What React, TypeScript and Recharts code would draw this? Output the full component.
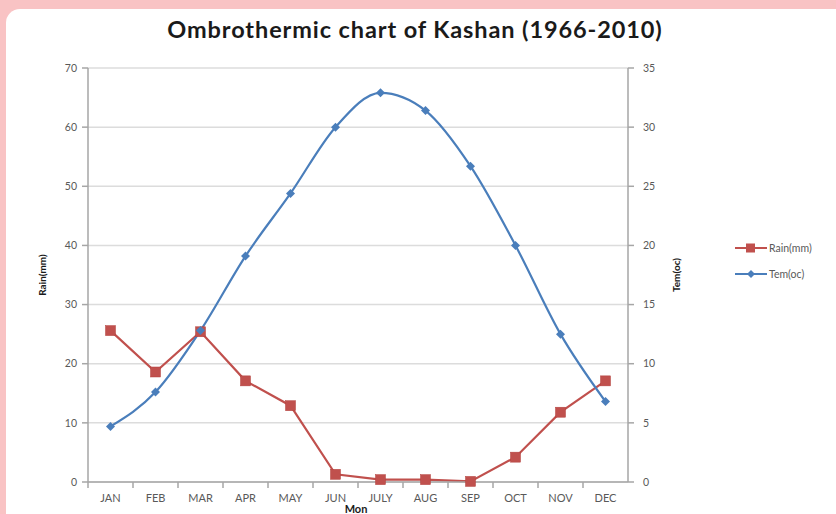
import React from "react";
import {
  LineChart,
  Line,
  XAxis,
  YAxis,
  CartesianGrid,
} from "recharts";

const months = ["JAN", "FEB", "MAR", "APR", "MAY", "JUN", "JULY", "AUG", "SEP", "OCT", "NOV", "DEC"];
const rain = [25.6, 18.6, 25.4, 17.1, 12.9, 1.3, 0.4, 0.4, 0.1, 4.2, 11.8, 17.1];
const temp = [4.7, 7.6, 12.8, 19.1, 24.4, 30.0, 32.9, 31.4, 26.7, 20.0, 12.5, 6.8];
const rainTicks = [0, 10, 20, 30, 40, 50, 60, 70];
const tempTicks = [0, 5, 10, 15, 20, 25, 30, 35];

const data = months.map((m, i) => ({ month: m, rain: rain[i], temp: temp[i] }));

const W = 836;
const H = 514;
const PLOT_LEFT = 88;
const PLOT_RIGHT = 628;
const BAND = (PLOT_RIGHT - PLOT_LEFT) / months.length;

const RED = "#c0504d";
const BLUE = "#4a7ebb";
const AXIS = "#a6a6a6";
const GRID = "#dcdcdc";
const TEXT = "#595959";
const FONT = "Lato, 'Liberation Sans', sans-serif";

const SquareDot = (props: any) => {
  const { cx, cy } = props;
  if (cx == null || cy == null) return null;
  return <rect x={cx - 5} y={cy - 5} width={10} height={10} fill={RED} stroke="#b3403d" strokeWidth={0.5} />;
};

const DiamondDot = (props: any) => {
  const { cx, cy } = props;
  if (cx == null || cy == null) return null;
  return <path d={`M${cx},${cy - 4.5}L${cx + 4.5},${cy}L${cx},${cy + 4.5}L${cx - 4.5},${cy}Z`} fill={BLUE} />;
};

const MonthTick = (props: any) => {
  const { x, y, payload } = props;
  return (
    <g>
      <line x1={x - BAND / 2} x2={x - BAND / 2} y1={482} y2={488} stroke={AXIS} strokeWidth={1.5} />
      <text x={x} y={y} dy={8} textAnchor="middle" fill={TEXT} fontSize={11} fontFamily={FONT}>
        {payload.value}
      </text>
    </g>
  );
};

function Legend() {
  const items = [
    { label: "Rain(mm)", color: RED, y: 248, square: true },
    { label: "Tem(oc)", color: BLUE, y: 274, square: false },
  ];
  return (
    <svg width={110} height={60} style={{ position: "absolute", left: 730, top: 230 }}>
      {items.map((it) => {
        const y = it.y - 230;
        return (
          <g key={it.label}>
            <line x1={5} x2={37} y1={y} y2={y} stroke={it.color} strokeWidth={2} />
            {it.square ? (
              <rect x={16} y={y - 4.5} width={9} height={9} fill={it.color} />
            ) : (
              <path d={`M21,${y - 4}L25,${y}L21,${y + 4}L17,${y}Z`} fill={it.color} />
            )}
            <text x={39} y={y + 4} fill={TEXT} fontSize={10.5} fontFamily={FONT}>
              {it.label}
            </text>
          </g>
        );
      })}
    </svg>
  );
}

export default function App() {
  return (
    <div style={{ position: "fixed", left: 0, top: 0, width: W, height: H, background: "#f9c3c4", overflow: "hidden" }}>
      <div style={{ position: "absolute", left: 6, top: 9, width: 850, height: 530, background: "#ffffff", borderRadius: 14 }} />
      <div
        style={{
          position: "absolute",
          left: 0,
          top: 15,
          width: 830,
          textAlign: "center",
          fontFamily: FONT,
          fontWeight: 700,
          fontSize: 23.5,
          letterSpacing: 0.9,
          color: "#1a1a1a",
        }}
      >
        Ombrothermic chart of Kashan (1966-2010)
      </div>
      <div style={{ position: "absolute", left: 0, top: 0 }}>
        <LineChart width={W} height={H} data={data} margin={{ top: 68, right: 148, bottom: 0, left: 0 }}>
          <CartesianGrid yAxisId="rain" vertical={false} stroke={GRID} strokeWidth={1.5} />
          <XAxis
            dataKey="month"
            scale="band"
            height={32}
            axisLine={{ stroke: AXIS, strokeWidth: 1.5 }}
            tickLine={false}
            tick={<MonthTick />}
            tickMargin={6}
            interval={0}
            label={{ value: "Mon", position: "insideBottom", offset: 1, dx: -2, fill: "#1a1a1a", fontSize: 11, fontWeight: 700, fontFamily: FONT }}
          />
          <YAxis
            yAxisId="rain"
            orientation="left"
            width={88}
            domain={[0, 70]}
            ticks={rainTicks}
            axisLine={{ stroke: AXIS, strokeWidth: 1.5 }}
            tickLine={{ stroke: AXIS, strokeWidth: 1.5 }}
            tickSize={6}
            tickMargin={5}
            tick={{ fill: TEXT, fontSize: 10.5, fontFamily: FONT }}
            label={{ value: "Rain(mm)", angle: -90, position: "center", dx: -2, fill: "#1a1a1a", fontSize: 10, fontWeight: 700, fontFamily: FONT }}
          />
          <YAxis
            yAxisId="temp"
            orientation="right"
            width={60}
            domain={[0, 35]}
            ticks={tempTicks}
            axisLine={{ stroke: AXIS, strokeWidth: 1.5 }}
            tickLine={{ stroke: AXIS, strokeWidth: 1.5 }}
            tickSize={6}
            tickMargin={9}
            tick={{ fill: TEXT, fontSize: 10.5, fontFamily: FONT }}
            label={{ value: "Tem(oc)", angle: -90, position: "center", dx: 18, fill: "#1a1a1a", fontSize: 10, fontWeight: 700, fontFamily: FONT }}
          />
          <Line
            yAxisId="rain"
            type="linear"
            dataKey="rain"
            name="Rain(mm)"
            stroke={RED}
            strokeWidth={2.2}
            dot={<SquareDot />}
            activeDot={false}
            isAnimationActive={false}
          />
          <Line
            yAxisId="temp"
            type="monotone"
            dataKey="temp"
            name="Tem(oc)"
            stroke={BLUE}
            strokeWidth={2.2}
            dot={<DiamondDot />}
            activeDot={false}
            isAnimationActive={false}
          />
        </LineChart>
      </div>
      <Legend />
    </div>
  );
}
